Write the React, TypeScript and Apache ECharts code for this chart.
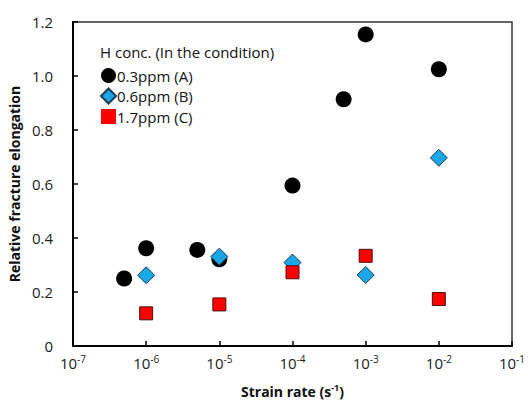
import React, { useEffect, useRef } from "react";
import * as echarts from "echarts";

const xA = [5e-7, 1e-6, 5e-6, 1e-5, 1e-4, 5e-4, 1e-3, 1e-2];
const yA = [0.25, 0.362, 0.356, 0.321, 0.594, 0.914, 1.154, 1.025];
const xB = [1e-6, 1e-5, 1e-4, 1e-3, 1e-2];
const yB = [0.262, 0.331, 0.309, 0.263, 0.697];
const xC = [1e-6, 1e-5, 1e-4, 1e-3, 1e-2];
const yC = [0.121, 0.154, 0.273, 0.334, 0.174];
const seriesNames = ["0.3ppm (A)", "0.6ppm (B)", "1.7ppm (C)"];
const legendTitle = "H conc. (In the condition)";
const xAxisTitle = "Strain rate (s";
const yAxisTitle = "Relative fracture elongation";

const FONT = "Open Sans";

export default function App() {
  const ref = useRef<HTMLDivElement>(null);
  useEffect(() => {
    if (!ref.current) return;
    const chart = echarts.init(ref.current, undefined, { renderer: "svg" });
    const zip = (xs: number[], ys: number[]) => xs.map((x, i) => [x, ys[i]]);
    chart.setOption({
      animation: false,
      backgroundColor: "#ffffff",
      textStyle: { fontFamily: FONT },
      grid: {
        left: 73,
        right: 16,
        top: 22,
        bottom: 55,
        outerBoundsMode: "none",
        containLabel: false,
        show: true,
        borderColor: "#333333",
        borderWidth: 1.5,
        backgroundColor: "transparent",
      },
      legend: {
        orient: "vertical",
        left: 100,
        top: 68,
        padding: 0,
        itemWidth: 15,
        itemHeight: 15,
        itemGap: 4.5,
        textStyle: { fontFamily: FONT, fontSize: 15, color: "#111", padding: [0, 0, 0, -4] },
        data: [
          { name: seriesNames[0], icon: "circle" },
          { name: seriesNames[1], icon: "diamond" },
          { name: seriesNames[2], icon: "rect", itemStyle: { borderWidth: 0 } },
        ],
      },
      graphic: [
        {
          type: "text",
          left: 100,
          top: 44,
          style: { text: legendTitle, font: `15px '${FONT}'`, fill: "#111" },
        },
      ],
      xAxis: {
        type: "log",
        logBase: 10,
        min: 1e-7,
        max: 1e-1,
        name: `{t|${xAxisTitle}}{s|-1}{t|)}`,
        nameLocation: "middle",
        nameGap: 37,
        nameTextStyle: {
          rich: {
            t: { fontFamily: FONT, fontSize: 14, fontWeight: "bold", color: "#111" },
            s: { fontFamily: FONT, fontSize: 9, fontWeight: "bold", color: "#111", verticalAlign: "top", padding: [0, 0, 8, 0] },
          },
        },
        axisLine: { lineStyle: { color: "#000", width: 2 } },
        axisTick: { inside: true, length: 5, lineStyle: { color: "#000", width: 1.5 } },
        splitLine: { show: false },
        minorTick: { show: false },
        axisLabel: {
          margin: 8,
          formatter: (v: number) => `{b|10}{s|${Math.round(Math.log10(v))}}`,
          rich: {
            b: { fontFamily: FONT, fontSize: 15, color: "#222" },
            s: { fontFamily: FONT, fontSize: 10, color: "#222", verticalAlign: "top", padding: [0, 0, 8, 0] },
          },
        },
      },
      yAxis: {
        type: "value",
        min: 0,
        max: 1.2,
        interval: 0.2,
        name: yAxisTitle,
        nameLocation: "middle",
        nameGap: 48,
        nameTextStyle: { fontFamily: FONT, fontSize: 14, fontWeight: "bold", color: "#111" },
        axisLine: { show: true, lineStyle: { color: "#000", width: 2 } },
        axisTick: { show: true, inside: true, length: 5, lineStyle: { color: "#000", width: 1.5 } },
        splitLine: { show: false },
        axisLabel: {
          margin: 20,
          fontFamily: FONT,
          fontSize: 15,
          color: "#222",
          formatter: (v: number) => (v === 0 ? "0" : v.toFixed(1)),
        },
      },
      series: [
        {
          name: seriesNames[0],
          type: "scatter",
          symbol: "circle",
          symbolSize: 16,
          itemStyle: { color: "#000000", opacity: 1 },
          data: zip(xA, yA),
        },
        {
          name: seriesNames[1],
          type: "scatter",
          symbol: "diamond",
          symbolSize: 17,
          itemStyle: { color: "#1ba6e8", borderColor: "#1f3a55", borderWidth: 1, opacity: 1 },
          data: zip(xB, yB),
        },
        {
          name: seriesNames[2],
          type: "scatter",
          symbol: "rect",
          symbolSize: 13,
          itemStyle: { color: "#ff0000", borderColor: "#4a1010", borderWidth: 1, opacity: 1 },
          data: zip(xC, yC),
        },
      ],
    });
    return () => chart.dispose();
  }, []);
  return (
    <div
      ref={ref}
      style={{ position: "fixed", left: 0, top: 0, width: 528, height: 401 }}
    />
  );
}
